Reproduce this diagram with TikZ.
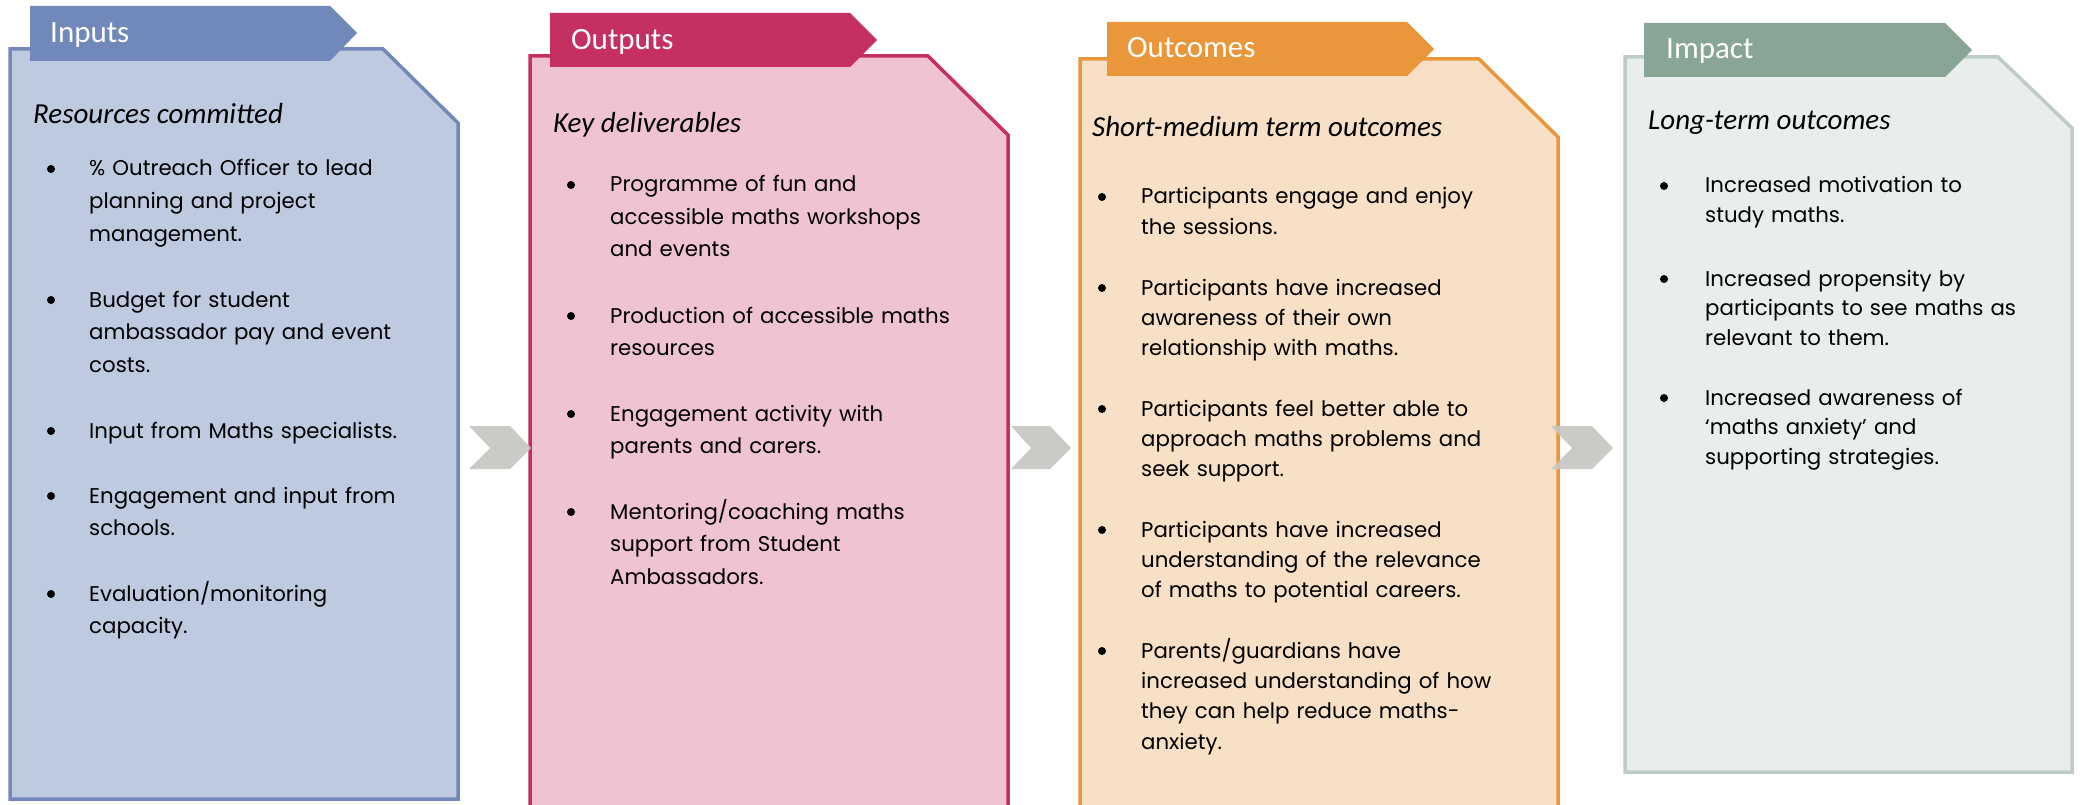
\documentclass[tikz,border=0pt]{standalone}
\usepackage{fontspec}
\setmainfont{Poppins}
\newfontfamily\headfont{Carlito}

% column palettes: A = tab and border, B = card fill
\definecolor{inA}{RGB}{113,137,186}
\definecolor{inB}{RGB}{189,202,224}
\definecolor{outA}{RGB}{198,48,96}
\definecolor{outB}{RGB}{239,195,210}
\definecolor{ocA}{RGB}{233,151,58}
\definecolor{ocB}{RGB}{248,224,198}
\definecolor{imA}{RGB}{137,165,150}
\definecolor{imB}{RGB}{233,237,236}
\definecolor{imL}{RGB}{191,204,198}
\definecolor{chev}{RGB}{200,197,194}

\def\lmskip{32.7}
% one bullet point: name, bullet x, text x, first baseline y, text
\newcommand\lmpoint[5]{%
  \node[bul] (#1b) at (#2+4,#4-7) {};
  \node[itm] (#1) at (#3,#4) {#5};}

\tikzset{
  card/.style={line width=3.5pt, line join=miter},
  tabtitle/.style={anchor=base west, inner sep=0pt, text=white,
    font=\headfont\fontsize{31}{31}\selectfont},
  subtitle/.style={anchor=base west, inner sep=0pt,
    font=\headfont\itshape\fontsize{29}{29}\selectfont},
  bul/.style={circle, fill=black, inner sep=0pt, minimum size=8pt},
  itm/.style={anchor=base west, inner sep=0pt, align=left, text width=400pt,
    font=\fontsize{21.3}{\lmskip}\selectfont},
  chevron/.style={fill=chev, opacity=0.92},
}

\begin{document}
\begin{tikzpicture}[x=1pt,y=-1pt]
\useasboundingbox (0,0) rectangle (2080,805);

% ---------- cards ----------
\draw[card, draw=inA, fill=inB]
  (10,49) -- (383,49) -- (458,123) -- (458,799) -- (10,799) -- cycle;
\draw[card, draw=outA, fill=outB]
  (530,56) -- (928,56) -- (1008,135) -- (1008,812) -- (530,812) -- cycle;
\draw[card, draw=ocA, fill=ocB]
  (1080,59) -- (1479,59) -- (1558,137) -- (1558,812) -- (1080,812) -- cycle;
\draw[card, draw=imL, fill=imB]
  (1625,57) -- (1998,57) -- (2072,128) -- (2072,772) -- (1625,772) -- cycle;

% ---------- tabs ----------
\fill[inA]  (30,6)   -- (330,6)   -- (357,33) -- (330,61) -- (30,61) -- cycle;
\fill[outA] (550,13) -- (850,13)  -- (877,40) -- (850,67) -- (550,67) -- cycle;
\fill[ocA]  (1107,22) -- (1407,22) -- (1434,49) -- (1407,76) -- (1107,76) -- cycle;
\fill[imA]  (1644,23) -- (1945,23) -- (1972,50) -- (1945,77) -- (1644,77) -- cycle;

\node[tabtitle] (tIn)  at (50,43)   {Inputs};
\node[tabtitle] (tOut) at (571,50)  {Outputs};
\node[tabtitle] (tOc)  at (1127,58) {Outcomes};
\node[tabtitle] (tIm)  at (1666,59) {Impact};

% ---------- chevrons between cards ----------
\fill[chevron] (469,426) -- (510,426) -- (531,448) -- (510,469) -- (469,469) -- (490,448) -- cycle;
\fill[chevron] (1011,426) -- (1050,426) -- (1071,448) -- (1050,469) -- (1011,469) -- (1031,448) -- cycle;
\fill[chevron] (1551,426) -- (1592,426) -- (1613,448) -- (1592,469) -- (1551,469) -- (1572,448) -- cycle;

% ---------- Inputs ----------
\node[subtitle] (sIn) at (33,124) {Resources committed};
\def\lmskip{32.8}
\lmpoint{in1}{47}{89}{176}{\% Outreach Officer to lead\\planning and project\\management.}
\lmpoint{in2}{47}{89}{307}{Budget for student\\ambassador pay and event\\costs.}
\lmpoint{in3}{47}{89}{438}{Input from Maths specialists.}
\lmpoint{in4}{47}{89}{503}{Engagement and input from\\schools.}
\lmpoint{in5}{47}{89}{601}{Evaluation/monitoring\\capacity.}

% ---------- Outputs ----------
\node[subtitle] (sOut) at (553,133) {Key deliverables};
\def\lmskip{32.5}
\lmpoint{out1}{567}{610}{192}{Programme of fun and\\accessible maths workshops\\and events}
\lmpoint{out2}{567}{610}{323}{Production of accessible maths\\resources}
\lmpoint{out3}{567}{610}{421}{Engagement activity with\\parents and carers.}
\lmpoint{out4}{567}{610}{519}{Mentoring/coaching maths\\support from Student\\Ambassadors.}

% ---------- Outcomes ----------
\node[subtitle] (sOc) at (1092,137) {Short-medium term outcomes};
\def\lmskip{30.4}
\lmpoint{oc1}{1098}{1141}{204}{Participants engage and enjoy\\the sessions.}
\lmpoint{oc2}{1098}{1141}{295}{Participants have increased\\awareness of their own\\relationship with maths.}
\lmpoint{oc3}{1098}{1141}{416}{Participants feel better able to\\approach maths problems and\\seek support.}
\lmpoint{oc4}{1098}{1141}{537}{Participants have increased\\understanding of the relevance\\of maths to potential careers.}
\lmpoint{oc5}{1098}{1141}{658}{Parents/guardians have\\increased understanding of how\\they can help reduce maths-\\anxiety.}

% ---------- Impact ----------
\node[subtitle] (sIm) at (1648,130) {Long-term outcomes};
\def\lmskip{29.8}
\lmpoint{im1}{1660}{1705}{193}{Increased motivation to\\study maths.}
\lmpoint{im2}{1660}{1705}{286}{Increased propensity by\\participants to see maths as\\relevant to them.}
\lmpoint{im3}{1660}{1705}{405}{Increased awareness of\\‘maths anxiety’ and\\supporting strategies.}
\end{tikzpicture}
\end{document}
